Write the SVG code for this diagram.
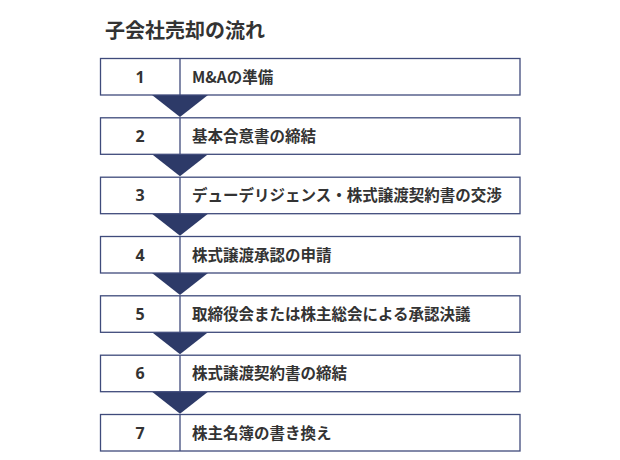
<svg xmlns="http://www.w3.org/2000/svg" width="620" height="460" viewBox="0 0 620 460">
<style>
.box{fill:#ffffff;stroke:#3f4b7b;stroke-width:1.3}
.div{stroke:#3f4b7b;stroke-width:1.3}
.arr{fill:#2d3a68}
.num{font-family:"Noto Sans","Noto Sans CJK JP",sans-serif;font-weight:bold;font-size:16px;fill:#333333;text-anchor:middle}
.lbl{font-family:"Noto Sans CJK JP",sans-serif;font-weight:bold;font-size:15.5px;fill:#333333}
.title{font-family:"Noto Sans CJK JP",sans-serif;font-weight:bold;font-size:20px;fill:#333333}
</style>
<rect width="620" height="460" fill="#ffffff"/>
<text class="title" x="105" y="38">子会社売却の流れ</text>
<g id="connectors">
<polygon class="arr" points="152,95 208,95 180,117"/>
<polygon class="arr" points="152,154.3 208,154.3 180,176.3"/>
<polygon class="arr" points="152,213.7 208,213.7 180,235.7"/>
<polygon class="arr" points="152,273 208,273 180,295"/>
<polygon class="arr" points="152,332.3 208,332.3 180,354.3"/>
<polygon class="arr" points="152,391.7 208,391.7 180,413.7"/>
</g>
<g id="step1"><rect class="box" x="100.5" y="58.5" width="419.5" height="36.5"/><line class="div" x1="180" y1="58.5" x2="180" y2="95"/><text class="num" x="140" y="82.5">1</text><text class="lbl" x="192" y="82.5">M&amp;Aの準備</text></g>
<g id="step2"><rect class="box" x="100.5" y="117.8" width="419.5" height="36.5"/><line class="div" x1="180" y1="117.8" x2="180" y2="154.3"/><text class="num" x="140" y="141.8">2</text><text class="lbl" x="192" y="141.8">基本合意書の締結</text></g>
<g id="step3"><rect class="box" x="100.5" y="177.2" width="419.5" height="36.5"/><line class="div" x1="180" y1="177.2" x2="180" y2="213.7"/><text class="num" x="140" y="201.2">3</text><text class="lbl" x="192" y="201.2">デューデリジェンス・株式譲渡契約書の交渉</text></g>
<g id="step4"><rect class="box" x="100.5" y="236.5" width="419.5" height="36.5"/><line class="div" x1="180" y1="236.5" x2="180" y2="273"/><text class="num" x="140" y="260.5">4</text><text class="lbl" x="192" y="260.5">株式譲渡承認の申請</text></g>
<g id="step5"><rect class="box" x="100.5" y="295.8" width="419.5" height="36.5"/><line class="div" x1="180" y1="295.8" x2="180" y2="332.3"/><text class="num" x="140" y="319.8">5</text><text class="lbl" x="192" y="319.8">取締役会または株主総会による承認決議</text></g>
<g id="step6"><rect class="box" x="100.5" y="355.2" width="419.5" height="36.5"/><line class="div" x1="180" y1="355.2" x2="180" y2="391.7"/><text class="num" x="140" y="379.2">6</text><text class="lbl" x="192" y="379.2">株式譲渡契約書の締結</text></g>
<g id="step7"><rect class="box" x="100.5" y="414.5" width="419.5" height="36.5"/><line class="div" x1="180" y1="414.5" x2="180" y2="451"/><text class="num" x="140" y="438.5">7</text><text class="lbl" x="192" y="438.5">株主名簿の書き換え</text></g>
</svg>
